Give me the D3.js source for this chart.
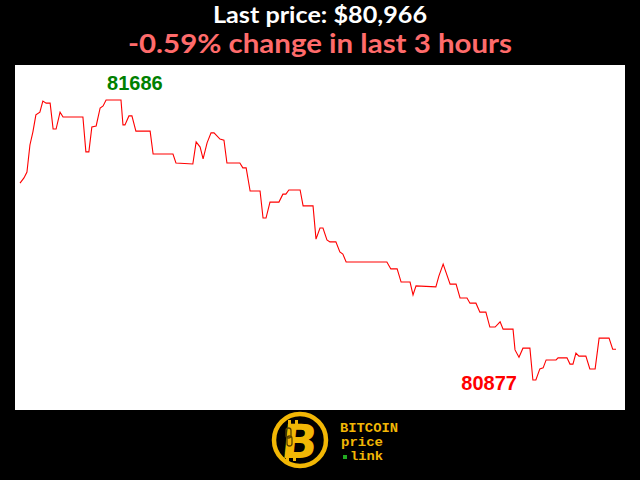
<!DOCTYPE html>
<html>
<head>
<meta charset="utf-8">
<script src="https://cdn.jsdelivr.net/npm/d3@7"></script>
<style>
html,body{margin:0;padding:0;background:#000;}
svg{display:block;}
</style>
</head>
<body>
<script>
// Data: minutes since start of 3-hour window, and price (USD)
const minutes = [0,1.2,2.1,3.0,3.9,4.8,6.0,6.9,7.9,9.1,10.0,10.9,12.1,13.0,19.0,19.9,20.8,21.7,23.0,24.2,25.1,26.0,30.5,31.1,31.7,32.9,33.8,35.0,39.3,40.2,46.2,47.1,52.2,53.2,54.4,55.3,56.5,57.7,58.6,60.4,61.6,62.5,66.4,67.3,68.3,69.5,72.5,73.4,74.3,75.5,78.2,79.4,80.3,81.2,84.6,85.5,88.5,89.4,90.6,91.5,92.7,93.6,95.4,96.6,97.5,98.5,110.8,112.0,113.9,115.1,117.8,118.7,119.6,125.6,126.5,127.8,129.9,131.7,132.9,135.0,135.9,137.7,138.9,140.7,141.9,143.5,145.0,145.9,148.9,149.5,150.7,151.9,154.0,154.9,155.8,157.0,158.0,158.9,161.9,162.5,165.2,166.1,167.0,167.9,168.8,170.9,172.1,173.7,174.9,177.9,179.0,180.0];
const prices = [81446,81461,81478,81556,81594,81643,81651,81683,81677,81677,81602,81602,81651,81637,81637,81536,81536,81608,81611,81663,81669,81686,81686,81614,81614,81640,81640,81596,81596,81530,81530,81504,81501,81565,81550,81516,81562,81591,81591,81573,81570,81504,81504,81490,81490,81423,81423,81345,81345,81391,81391,81414,81414,81426,81426,81380,81380,81284,81316,81316,81282,81276,81276,81247,81241,81218,81218,81198,81198,81160,81160,81123,81149,81146,81177,81212,81154,81154,81114,81114,81099,81099,81073,81073,81030,81030,81045,81024,81024,80964,80943,80969,80969,80877,80877,80909,80912,80935,80935,80941,80941,80923,80923,80955,80946,80946,80909,80909,80998,80998,80966,80966];
const lastPrice = 80966;
const changePct = -0.59;
const hours = 3;
const logoLines = ["BITCOIN", "price", "link"];

const W = 640, H = 480;
const svg = d3.select("body").append("svg").attr("width", W).attr("height", H);
svg.append("rect").attr("width", W).attr("height", H).attr("fill", "#000");

// plot background
svg.append("rect").attr("x", 15).attr("y", 65).attr("width", 610).attr("height", 345).attr("fill", "#fff");

const data = minutes.map((m, i) => ({t: m, p: prices[i]}));
const maxP = d3.max(prices), minP = d3.min(prices);
const x = d3.scaleLinear().domain([0, 180]).range([20, 616]);
const y = d3.scaleLinear().domain([minP, maxP]).range([380, 100]);

svg.append("path").datum(data)
  .attr("fill", "none").attr("stroke", "#ff0000").attr("stroke-width", 1.1)
  .attr("d", d3.line().x(d => x(d.t)).y(d => y(d.p)));

const maxD = data.find(d => d.p === maxP);
const minD = data.find(d => d.p === minP);
svg.append("text").attr("x", x(maxD.t) + 1).attr("y", y(maxD.p) - 10)
  .attr("font-family", "Liberation Sans, Arial, sans-serif").attr("font-weight", "bold")
  .attr("font-size", 20).attr("fill", "#008000").text(maxP);
svg.append("text").attr("x", x(minD.t) - 16).attr("y", y(minD.p) + 10)
  .attr("text-anchor", "end")
  .attr("font-family", "Liberation Sans, Arial, sans-serif").attr("font-weight", "bold")
  .attr("font-size", 20).attr("fill", "#ff0000").text(minP);

// titles
svg.append("text").attr("x", 320).attr("y", 23).attr("text-anchor", "middle")
  .attr("font-family", "Lato, sans-serif").attr("font-weight", "bold").attr("font-size", 23)
  .attr("fill", "#fff").attr("textLength", 214).attr("lengthAdjust", "spacingAndGlyphs")
  .text("Last price: $" + d3.format(",")(lastPrice));
svg.append("text").attr("x", 320).attr("y", 53).attr("text-anchor", "middle")
  .attr("font-family", "Lato, sans-serif").attr("font-weight", "bold").attr("font-size", 27)
  .attr("fill", "#ff6b6b").attr("textLength", 384).attr("lengthAdjust", "spacingAndGlyphs")
  .text(changePct.toFixed(2) + "% change in last " + hours + " hours");

// logo
const gold = "#f2b705";
const g = svg.append("g");
g.append("circle").attr("cx", 300).attr("cy", 440).attr("r", 26).attr("fill", "#000")
  .attr("stroke", gold).attr("stroke-width", 4.5);
g.append("rect").attr("x", 288).attr("y", 420).attr("width", 3).attr("height", 6).attr("fill", gold);
g.append("rect").attr("x", 295).attr("y", 420).attr("width", 3).attr("height", 6).attr("fill", gold);
g.append("rect").attr("x", 286).attr("y", 455).attr("width", 3).attr("height", 6).attr("fill", gold);
g.append("rect").attr("x", 293).attr("y", 455).attr("width", 3).attr("height", 6).attr("fill", gold);
g.append("text").attr("x", 300).attr("y", 458).attr("text-anchor", "middle")
  .attr("font-family", "DejaVu Sans, sans-serif").attr("font-weight", "bold").attr("font-size", 47)
  .attr("fill", gold).attr("transform", "skewX(-6) translate(46,0)").text("B");
// chain link
g.append("rect").attr("x", 286).attr("y", 428).attr("width", 5).attr("height", 10).attr("rx", 2.5)
  .attr("fill", "none").attr("stroke", "#5a4300").attr("stroke-width", 1.3);
g.append("rect").attr("x", 287).attr("y", 436).attr("width", 5).attr("height", 10).attr("rx", 2.5)
  .attr("fill", "none").attr("stroke", "#5a4300").attr("stroke-width", 1.3);

const mono = "Liberation Mono, Courier New, monospace";
const logoX = [340, 341, 350], logoY = [432, 446, 460], logoLen = [58, 42, 33];
logoLines.forEach((s, i) => {
  g.append("text").attr("x", logoX[i]).attr("y", logoY[i]).attr("font-family", mono)
    .attr("font-weight", "bold").attr("font-size", 12.5).attr("fill", gold)
    .attr("textLength", logoLen[i]).attr("lengthAdjust", "spacingAndGlyphs").text(s);
});
g.append("rect").attr("x", 343).attr("y", 455).attr("width", 4).attr("height", 4).attr("fill", "#22aa22");
</script>
</body>
</html>
